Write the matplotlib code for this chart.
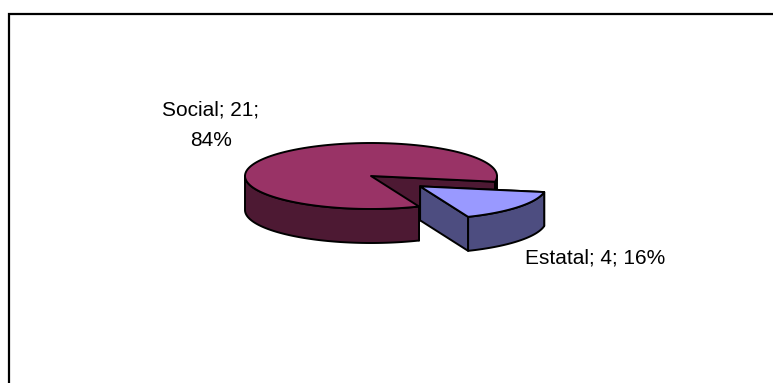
import numpy as np
import matplotlib.pyplot as plt
from matplotlib.patches import Polygon

labels = ["Social", "Estatal"]
values = [21, 4]
top_colors = ["#993366", "#9999FF"]
side_colors = ["#4D1933", "#4D4D80"]
explode = [0.0, 0.5]

# pie geometry in pixels
cx, cy = 371, 176
rx, ry = 126, 33
depth = 34
start = -10.0

fig = plt.figure(figsize=(7.73, 3.83), dpi=100)
ax = fig.add_axes([0, 0, 1, 1])
ax.set_xlim(0, 773)
ax.set_ylim(383, 0)
ax.axis("off")

# chart area frame (runs off the right and bottom)
ax.plot([8.5, 8.5, 790], [400, 14, 14], color="black", lw=1.6, solid_joinstyle="miter")

edge = dict(edgecolor="black", lw=1.4, joinstyle="round")


def arc(ox, oy, a0, a1, dz=0, n=120):
    t = np.linspace(a0, a1, n)
    return np.column_stack([ox + rx * np.cos(t), oy - ry * np.sin(t) + dz])


def cut_face(ox, oy, a):
    p = (ox + rx * np.cos(a), oy - ry * np.sin(a))
    return [(ox, oy), p, (p[0], p[1] + depth), (ox, oy + depth)]


def draw_slice(a0, a1, ox, oy, top, side):
    # radial faces: the one turned away from the viewer first
    faces = [(a0, np.sin(a0 - np.pi / 2)), (a1, np.sin(a1 + np.pi / 2))]
    faces.sort(key=lambda f: -f[1])
    for a, _ in faces:
        ax.add_patch(Polygon(cut_face(ox, oy, a), facecolor=side, **edge))
    # outer wall, only the front half (pi..2pi) is seen
    for k in range(-1, 2):
        lo = max(a0, np.pi + 2 * np.pi * k)
        hi = min(a1, 2 * np.pi + 2 * np.pi * k)
        if hi > lo:
            upper = arc(ox, oy, lo, hi)
            lower = arc(ox, oy, hi, lo, dz=depth)
            ax.add_patch(Polygon(np.vstack([upper, lower]), facecolor=side, **edge))
    # top face
    pts = np.vstack([[(ox, oy)], arc(ox, oy, a0, a1)])
    ax.add_patch(Polygon(pts, facecolor=top, **edge))


total = sum(values)
angle = np.radians(start)
slices = []
for v, e, tc, sc in zip(values, explode, top_colors, side_colors):
    span = 2 * np.pi * v / total
    mid = angle + span / 2
    ox = cx + e * rx * np.cos(mid)
    oy = cy - e * ry * np.sin(mid)
    slices.append((angle, angle + span, ox, oy, tc, sc))
    angle += span

for s in slices:
    draw_slice(*s)

font = dict(family="Liberation Sans", fontsize=15, color="black")
pct = [round(100 * v / total) for v in values]
ax.text(211, 125, f"{labels[0]}; {values[0]};\n{pct[0]}%", ha="center", va="center",
        multialignment="center", linespacing=1.75, **font)
ax.text(525, 258, f"{labels[1]}; {values[1]}; {pct[1]}%", ha="left", va="center", **font)

fig.savefig("out.png", dpi=100)
